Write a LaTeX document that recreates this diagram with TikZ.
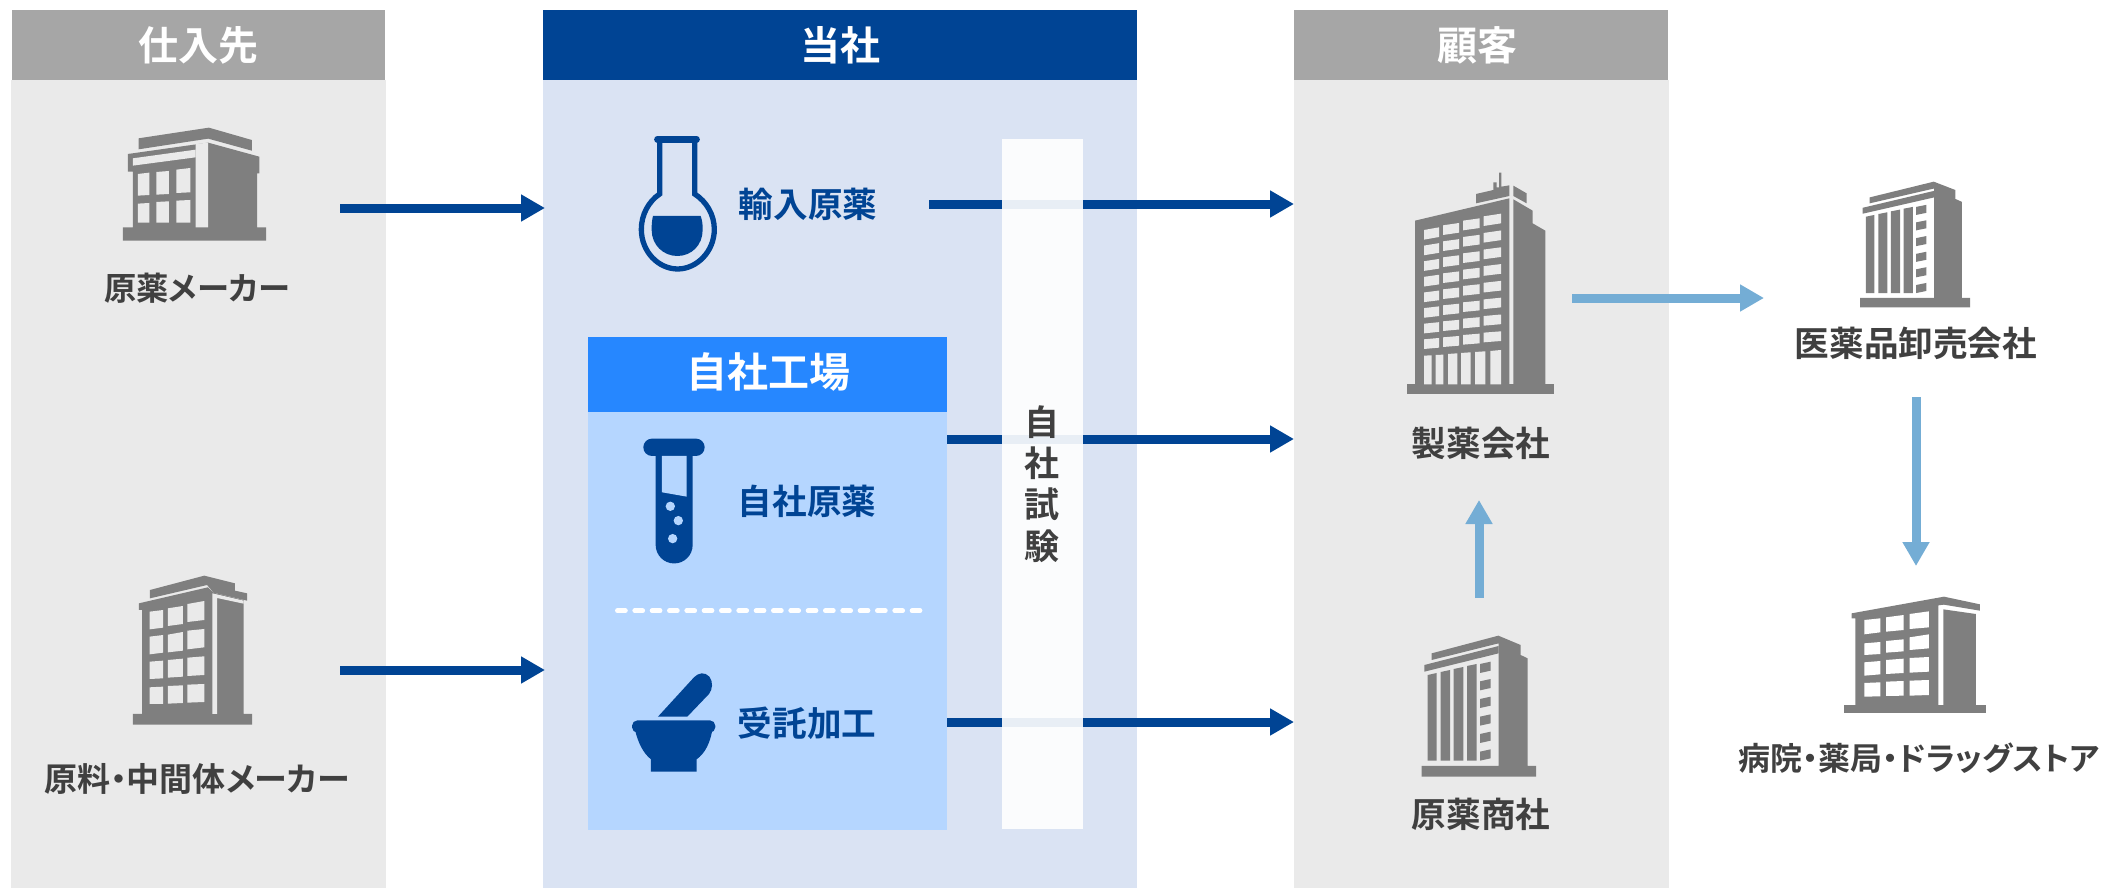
\documentclass[tikz,border=0pt]{standalone}
\usepackage{fontspec}
\setmainfont{Noto Sans CJK JP}[BoldFont={Noto Sans CJK JP Bold},RawFeature=+palt]
\usetikzlibrary{arrows.meta}
\definecolor{navy}{RGB}{0,68,148}
\definecolor{panelgrey}{RGB}{234,234,234}
\definecolor{headgrey}{RGB}{166,166,166}
\definecolor{panelblue}{RGB}{218,227,243}
\definecolor{factoryhead}{RGB}{38,135,255}
\definecolor{factorybody}{RGB}{181,214,255}
\definecolor{sky}{RGB}{116,173,213}
\definecolor{icongrey}{RGB}{127,127,127}
\definecolor{txtgrey}{RGB}{64,64,64}
\newcommand{\wq}[6]{\fill (#1,#2)--(#4,#5)--(#4,#6)--(#1,#3)--cycle;}
\tikzset{
  zoomed/.style n args={4}{shift={(#1,#2)},x=#3pt,y=-#4pt},
  greytxt/.style={text=txtgrey,font=\bfseries\fontsize{34.6}{40}\selectfont,inner sep=0pt},
  bluetxt/.style={text=navy,font=\bfseries\fontsize{34.6}{40}\selectfont,inner sep=0pt},
  smalltxt/.style={text=txtgrey,font=\bfseries\fontsize{35}{41.3}\selectfont,inner sep=0pt},
  headtxt/.style={text=white,font=\bfseries\fontsize{40}{46}\selectfont,inner sep=0pt},
  mainarrow/.style={draw=navy,line width=9pt,-{Triangle[length=24pt,width=25.6pt]}},
  lightarrow/.style={draw=sky,line width=9pt,-{Triangle[length=24pt,width=25.6pt]}},
}
\begin{document}
\begin{tikzpicture}[x=1pt,y=-1pt]
\useasboundingbox (0,0) rectangle (2105,888);
% panels
\fill[panelgrey] (11,80) rectangle (386,888);
\fill[headgrey] (12,10) rectangle (385,80);
\fill[panelblue] (543,80) rectangle (1137,888);
\fill[navy] (543,10) rectangle (1137,80);
\fill[panelgrey] (1294,80) rectangle (1669,888);
\fill[headgrey] (1294,10) rectangle (1668,80);
\fill[factorybody] (588,412) rectangle (947,830);
\fill[factoryhead] (588,337) rectangle (947,412);
\draw[white,line width=4.7pt,line cap=round,dash pattern=on 8pt off 9.33pt] (617.4,610.7) -- (921,610.7);
% connector ends
\coordinate (a1s) at (340,208); \coordinate (a1e) at (545,208);
\coordinate (a2s) at (340,670); \coordinate (a2e) at (545,670);
\coordinate (b1s) at (929,204); \coordinate (b1e) at (1294,204);
\coordinate (b2s) at (947,439); \coordinate (b2e) at (1294,439);
\coordinate (b3s) at (947,722); \coordinate (b3e) at (1294,722);
\coordinate (c1s) at (1572,298); \coordinate (c1e) at (1764,298);
\coordinate (c2s) at (1479,598); \coordinate (c2e) at (1479,500);
\coordinate (c3s) at (1916,397); \coordinate (c3e) at (1916,566);
\draw[mainarrow] (a1s) -- (a1e);
\draw[mainarrow] (a2s) -- (a2e);
\draw[mainarrow] (b1s) -- (b1e);
\draw[mainarrow] (b2s) -- (b2e);
\draw[mainarrow] (b3s) -- (b3e);
\draw[lightarrow] (c1s) -- (c1e);
\draw[lightarrow] (c2s) -- (c2e);
\draw[lightarrow] (c3s) -- (c3e);
% test strip
\fill[white,fill opacity=.91] (1002,139) rectangle (1083,829);
% headers
\node[headtxt] (h1) at (198,45) {仕入先};
\node[headtxt] (h2) at (840,45) {当社};
\node[headtxt] (h3) at (1477,45) {顧客};
\node[headtxt,font=\bfseries\fontsize{41}{46}\selectfont] (h4) at (768,372) {自社工場};
% labels
\node[greytxt,font=\bfseries\fontsize{32.3}{36}\selectfont] (l1) at (197,288) {原薬メーカー};
\node[greytxt,font=\bfseries\fontsize{33}{36}\selectfont] (l2) at (197,779) {原料・中間体メーカー};
\node[bluetxt] (l3) at (808,204) {輸入原薬};
\node[bluetxt] (l4) at (807,501) {自社原薬};
\node[bluetxt] (l5) at (807,723) {受託加工};
\node[greytxt] (l6) at (1481,443) {製薬会社};
\node[greytxt] (l7) at (1481,814) {原薬商社};
\node[greytxt] (l8) at (1916,343) {医薬品卸売会社};
\node[greytxt,font=\bfseries\fontsize{32}{36}\selectfont] (l9) at (1919,758) {病院・薬局・ドラッグストア};
\node[smalltxt,align=center] (l10) at (1042,484) {自\\社\\試\\験};
% building 1
\begin{scope}[zoomed={0}{0}{.3571}{.3333},fill=icongrey]
\fill (388,415)--(585,383)--(705,420)--(705,452)--(583,416)--(388,448)--cycle;
\fill (358,462)--(583,428)--(726,470)--(726,520)--(720,520)--(720,682)--(745,682)--(745,722)--(344,722)--(344,682)--(372,682)--(372,515)--(358,515)--cycle;
\end{scope}
\begin{scope}[zoomed={0}{0}{.3571}{.3333},fill=panelgrey]
\fill (372,475)--(548,449)--(548,472)--(372,497)--cycle;
\fill (548,432)--(583,428)--(583,682)--(548,682)--cycle;
\wq{386}{522}{587}{418}{518}{585}\wq{438}{516}{584}{473}{513}{582}\wq{494}{509}{579}{533}{504}{577}
\wq{386}{611}{668}{418}{609}{668}\wq{438}{606}{668}{473}{604}{668}\wq{494}{602}{668}{533}{600}{668}
\end{scope}
% building 2
\begin{scope}[zoomed={0}{560}{.3571}{.3333},fill=icongrey]
\fill (420,90)--(572,47)--(658,70)--(658,92)--(692,100)--(692,122)--(598,98)--(580,75)--(420,115)--cycle;
\fill (389,130)--(582,82)--(598,98)--(682,120)--(682,462)--(706,462)--(706,494)--(372,494)--(372,462)--(398,462)--(398,150)--(389,150)--cycle;
\end{scope}
\begin{scope}[zoomed={0}{560}{.3571}{.3333},fill=panelgrey]
\fill (595,100)--(682,122)--(682,131)--(608,114)--(608,462)--(595,462)--cycle;
\wq{419}{155}{208}{457}{150}{203}\wq{470}{145}{198}{512}{138}{192}\wq{525}{132}{186}{572}{123}{180}
\wq{419}{230}{283}{457}{225}{278}\wq{470}{224}{277}{512}{216}{272}\wq{525}{212}{268}{572}{207}{262}
\wq{419}{305}{357}{457}{302}{355}\wq{470}{300}{353}{512}{296}{350}\wq{525}{293}{348}{572}{289}{345}
\wq{419}{382}{432}{457}{380}{432}\wq{470}{378}{431}{512}{376}{429}\wq{525}{374}{428}{572}{372}{426}
\end{scope}
% flask
\begin{scope}[zoomed={580}{110}{.3333}{.3333}]
\draw[navy,line width=6.4pt,line cap=round] (232,88) -- (350,88);
\draw[navy,line width=5.3pt] (239,88) -- (239,252) .. controls (205,275) and (184,315) .. (184,358) .. controls (184,425) and (235,477) .. (293,477) .. controls (350,477) and (403,425) .. (403,358) .. controls (403,315) and (380,275) .. (344,252) -- (344,88);
\fill[navy] (219,318) -- (362,318) .. controls (368,335) and (368,345) .. (368,360) .. controls (368,405) and (335,438) .. (292,438) .. controls (250,438) and (215,405) .. (215,360) .. controls (215,345) and (215,335) .. (219,318) -- cycle;
\end{scope}
% test tube
\begin{scope}[zoomed={580}{110}{.3333}{.3333}]
\fill[navy,rounded corners=8.6pt] (190,986) rectangle (374,1038);
\fill[navy] (227,1030) -- (338,1030) -- (338,1305) arc[start angle=0,end angle=180,radius=55.5] -- cycle;
\fill[factorybody] (246,1038) -- (320,1038) -- (320,1160) -- (246,1147) -- cycle;
\fill[factorybody] (271,1189) circle[radius=14];
\fill[factorybody] (295,1232) circle[radius=14];
\fill[factorybody] (278,1286) circle[radius=14];
\end{scope}
% mortar
\begin{scope}[zoomed={580}{570}{.3333}{.3333},fill=navy]
\fill (234,440) -- (342,322) .. controls (355,308) and (375,305) .. (388,320) .. controls (400,335) and (398,358) .. (387,372) -- (322,440) -- cycle;
\fill[rounded corners=5.5pt] (156,451) rectangle (406,488);
\fill (165,480) .. controls (175,520) and (190,550) .. (213,568) -- (213,605) -- (350,605) -- (350,568) .. controls (375,550) and (390,520) .. (397,480) -- cycle;
\end{scope}
% main building
\begin{scope}[zoomed={1380}{150}{.3333}{.3333},fill=icongrey]
\fill (288,132)--(340,120)--(340,97)--(350,97)--(350,112)--(357,112)--(357,68)--(364,68)--(364,110)--(388,106)--(388,138)--(288,160)--cycle;
\fill (400,107)--(440,130)--(440,160)--(400,138)--cycle;
\fill (105,212)--(388,145)--(388,703)--(105,703)--cycle;
\fill (400,148)--(458,182)--(458,220)--(496,242)--(496,703)--(400,703)--cycle;
\fill (81,703) rectangle (521,731);
\end{scope}
\begin{scope}[zoomed={1380}{150}{.3333}{.3333},fill=panelgrey]
\foreach \xa/\xb/\ta/\tb/\tc/\td in {132/177/240/568/232/564,189/237/226/562/219/558,249/299/212/555/205/551,311/363/199/548/191/544}
 \foreach \r in {0,...,7} {
  \pgfmathsetmacro\ya{\ta+(\tb-\ta)*\r/7}
  \pgfmathsetmacro\yb{\tc+(\td-\tc)*\r/7}
  \fill (\xa,\ya)--(\xb,\yb)--(\xb,\yb+29)--(\xa,\ya+29)--cycle;
 }
\foreach \xa/\xb/\ta/\tb in {132/155/617/616,167/190/615/614,204/232/612/610,243/272/609/607,285/316/606/604,331/363/603/600}
  \fill (\xa,\ta)--(\xb,\tb)--(\xb,703)--(\xa,703)--cycle;
\end{scope}
% building 3 and 5 (same outline)
\foreach \ox/\oy/\sx/\sy in {1380/610/.3333/.3333,1819.9/158.8/.3207/.297} {
\begin{scope}[zoomed={\ox}{\oy}{\sx}{\sy},fill=icongrey]
\fill (155,130)--(355,77)--(422,105)--(422,135)--(443,145)--(443,468)--(468,468)--(468,500)--(125,500)--(125,468)--(356,468)--(356,100)--(155,150)--cycle;
\fill (133,165)--(356,108)--(356,130)--(133,185)--cycle;
\fill (143,195)--(170,189)--(170,452)--(143,452)--cycle;
\fill (182,186)--(210,180)--(210,452)--(182,452)--cycle;
\fill (221,177)--(250,171)--(250,452)--(221,452)--cycle;
\fill (261,168)--(290,162)--(290,452)--(261,452)--cycle;
\foreach \t in {162,214,267,320,372,425} \fill (300,\t)--(332,\t-7)--(332,\t+20)--(300,\t+27)--cycle;
\end{scope}
}
% building 6
\begin{scope}[zoomed={1720}{580}{.3333}{.3333},fill=icongrey]
\fill (395,100)--(672,50)--(780,73)--(780,92)--(672,74)--(655,76)--(655,375)--(406,375)--(406,115)--(395,115)--cycle;
\fill (670,88)--(768,102)--(768,375)--(670,375)--cycle;
\fill (373,375) rectangle (797,400);
\end{scope}
\begin{scope}[zoomed={1720}{580}{.3333}{.3333},fill=white]
\wq{433}{120}{163}{481}{115}{157}\wq{498}{112}{155}{551}{105}{150}\wq{569}{102}{147}{627}{94}{142}
\wq{433}{190}{225}{481}{186}{222}\wq{498}{183}{218}{551}{178}{214}\wq{569}{172}{210}{627}{163}{205}
\wq{433}{247}{287}{481}{243}{283}\wq{498}{240}{282}{551}{236}{279}\wq{569}{234}{278}{627}{231}{275}
\wq{433}{309}{350}{481}{307}{349}\wq{498}{305}{348}{551}{303}{347}\wq{569}{302}{347}{627}{300}{345}
\end{scope}
\end{tikzpicture}
\end{document}
